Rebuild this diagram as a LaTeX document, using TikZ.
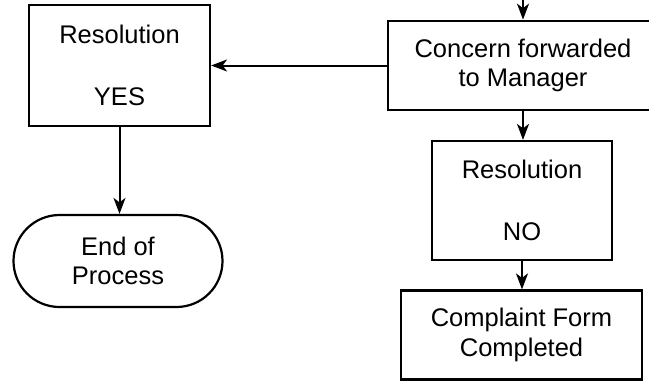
\documentclass[tikz,border=0pt]{standalone}
\usepackage{fontspec}
\setmainfont{Liberation Sans}
\usetikzlibrary{arrows.meta,shapes.misc}
\begin{document}
\begin{tikzpicture}[x=1pt,y=-1pt,
  box/.style={draw,line width=2.2pt,rectangle,inner sep=0pt,align=center,
    font=\fontsize{25.5}{29.5}\selectfont},
  term/.style={box,rounded rectangle,rounded rectangle arc length=180},
  arr/.style={line width=2pt,-{Stealth[length=16pt,width=12pt,inset=4.5pt]}}]
\path[use as bounding box] (0,0) rectangle (649,381);
\clip (0,0) rectangle (649,381);
\node[box,minimum width=181pt,minimum height=121pt] (yes) at (119.5,65.5) {Resolution\\[32pt]YES};
\node[term,minimum width=209pt,minimum height=92pt] (end) at (118,261) {End of\\Process};
\node[box,minimum width=270pt,minimum height=89.5pt] (concern) at (523,65.5) {Concern forwarded\\to Manager};
\node[box,minimum width=180pt,minimum height=119pt] (no) at (522,200.5) {Resolution\\[32pt]NO};
\node[box,minimum width=241pt,minimum height=89pt] (form) at (521.5,335) {Complaint Form\\Completed};
\coordinate (topin) at (523,0);
\draw[arr] (topin) -- (concern.north);
\draw[arr] (concern.west) -- (yes.east);
\draw[arr] (yes.south) -- (yes.south |- end.north);
\draw[arr] (concern.south) -- (concern.south |- no.north);
\draw[arr] (no.south) -- (no.south |- form.north);
\end{tikzpicture}
\end{document}
